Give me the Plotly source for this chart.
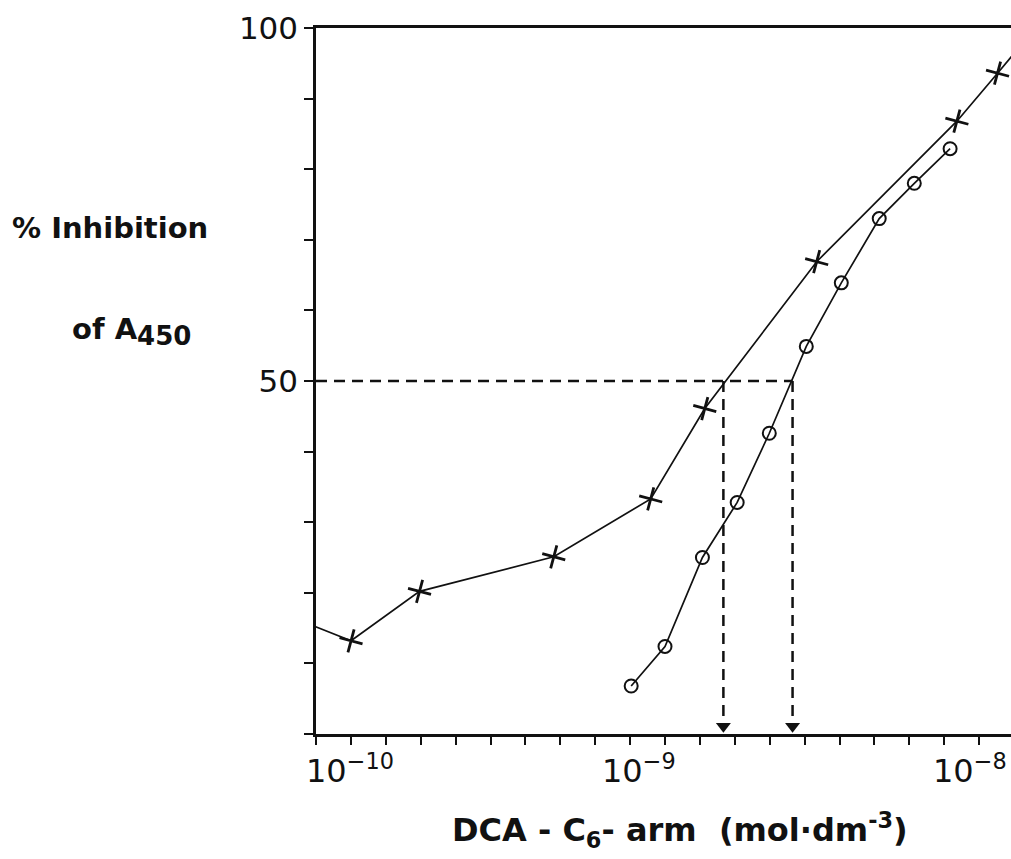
import plotly.graph_objects as go

# ---- data ----
cross_conc = [7.9e-11, 1.26e-10, 1.98e-10, 4.8e-10, 9.1e-10, 1.30e-9, 2.72e-9, 6.86e-9, 8.97e-9, 1.07e-8]
cross_inhib = [17.2, 13.2, 20.2, 25.1, 33.3, 46.1, 66.9, 86.8, 93.6, 98.1]

circle_conc = [8.0e-10, 1.0e-9, 1.28e-9, 1.61e-9, 1.99e-9, 2.54e-9, 3.20e-9, 4.11e-9, 5.18e-9, 6.56e-9]
circle_inhib = [6.8, 12.4, 25.0, 32.8, 42.6, 54.9, 63.9, 73.0, 78.0, 82.9]

half_level = 50
ic50_cross = 1.47e-9
ic50_circle = 2.32e-9

y_ticks = [0, 10, 20, 30, 40, 50, 60, 70, 80, 90, 100]
y_ticktext = ["", "", "", "", "", "50", "", "", "", "", "100"]
x_minor_exp = [-10 + 0.1 * k for k in range(21)]
x_label_text = ["10<sup>−10</sup>", "10<sup>−9</sup>", "10<sup>−8</sup>"]

FONT = "DejaVu Sans"
BLACK = "#111111"

fig = go.Figure()

# dashed 50% guide lines
fig.add_trace(go.Scatter(
    x=[1e-10, ic50_circle], y=[half_level, half_level], mode="lines",
    line=dict(color=BLACK, width=2.5, dash="11px,7px"), hoverinfo="skip", showlegend=False))
for xv in [ic50_cross, ic50_circle]:
    fig.add_trace(go.Scatter(
        x=[xv, xv], y=[half_level, 2.5], mode="lines",
        line=dict(color=BLACK, width=2.5, dash="11px,7px"), hoverinfo="skip", showlegend=False))
fig.add_trace(go.Scatter(
    x=[ic50_cross, ic50_circle], y=[1.1, 1.1], mode="markers",
    marker=dict(symbol="triangle-down", size=13, color=BLACK),
    hoverinfo="skip", showlegend=False, cliponaxis=False))

# series
fig.add_trace(go.Scatter(
    x=cross_conc, y=cross_inhib, mode="lines+markers",
    line=dict(color=BLACK, width=1.7),
    marker=dict(symbol="cross-thin", size=17, angle=15, line=dict(color=BLACK, width=2.8)),
    showlegend=False))
fig.add_trace(go.Scatter(
    x=circle_conc, y=circle_inhib, mode="lines+markers",
    line=dict(color=BLACK, width=1.7),
    marker=dict(symbol="circle-open", size=13, color=BLACK, line=dict(color=BLACK, width=2)),
    showlegend=False))

fig.update_layout(
    width=1011, height=859,
    margin=dict(l=316, r=0, t=28, b=125),
    paper_bgcolor="white", plot_bgcolor="white",
    font=dict(family=FONT, color=BLACK),
    showlegend=False,
)
fig.update_xaxes(
    type="log", range=[-10, -8.0086],
    showgrid=False, zeroline=False,
    showline=True, linecolor=BLACK, linewidth=2.5, mirror=True,
    tickmode="array", tickvals=[10 ** e for e in x_minor_exp], ticktext=[""] * len(x_minor_exp),
    ticks="outside", ticklen=8, tickwidth=2, tickcolor=BLACK,
)
fig.update_yaxes(
    range=[0, 100],
    showgrid=False, zeroline=False,
    showline=True, linecolor=BLACK, linewidth=2.5,
    tickmode="array", tickvals=y_ticks, ticktext=y_ticktext,
    ticks="outside", ticklen=9, tickwidth=2, tickcolor=BLACK,
    tickfont=dict(size=31, family=FONT, color=BLACK),
)

# x tick labels (placed like the original lettering, in paper coordinates)
label_pos = [0.0, 0.465, 0.9965]
anchors = ["left", "center", "right"]
shifts = [-12, 0, 0]
for t, px, a, s in zip(x_label_text, label_pos, anchors, shifts):
    fig.add_annotation(
        x=px, xref="paper", y=0, yref="paper", yanchor="top", yshift=-12,
        xanchor=a, xshift=s, text=t, showarrow=False,
        font=dict(size=32, family=FONT, color=BLACK))

# axis titles
fig.add_annotation(
    x=0, xref="paper", xshift=-106, y=71.7, yref="y", yanchor="middle", xanchor="right",
    text="<b>% Inhibition</b>", showarrow=False, font=dict(size=29, family=FONT, color=BLACK))
fig.add_annotation(
    x=0, xref="paper", xshift=-123, y=57.0, yref="y", yanchor="middle", xanchor="right",
    text="<b>of A<sub><span style='font-size:26px'>450</span></sub></b>", showarrow=False,
    font=dict(size=29, family=FONT, color=BLACK))
fig.add_annotation(
    x=0.524, xref="paper", y=0, yref="paper", yanchor="middle", yshift=-96, xanchor="center",
    text="<b>DCA - C<sub>6</sub>- arm  (mol·dm<sup>-3</sup>)</b>", showarrow=False,
    font=dict(size=32, family=FONT, color=BLACK))

fig.write_html("out.html")
